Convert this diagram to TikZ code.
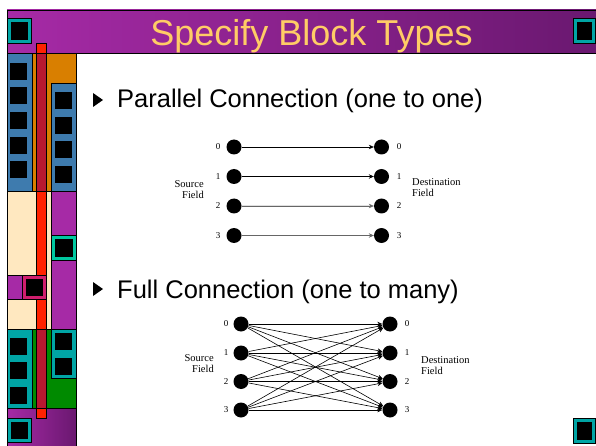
\documentclass[tikz,border=0pt]{standalone}
\usepackage{fontspec}
\setmainfont{Liberation Sans}
\newfontfamily\labelfont{Liberation Serif}
\usetikzlibrary{arrows.meta,calc}
\definecolor{panelblue}{HTML}{3E7BAE}
\definecolor{panelorange}{HTML}{D97F00}
\definecolor{panelcream}{HTML}{FFE8C0}
\definecolor{panelpurple}{HTML}{A62AA6}
\definecolor{paneldark}{HTML}{6A1870}
\definecolor{panelteal}{HTML}{00A5A5}
\definecolor{panelmint}{HTML}{00C8A0}
\definecolor{panelpink}{HTML}{D01E6E}
\definecolor{panelgreen}{HTML}{008A00}
\definecolor{barbright}{HTML}{FF2200}
\definecolor{bardark}{HTML}{B81830}
\definecolor{titlegold}{HTML}{FFCC66}
\tikzset{
  edge/.style={draw=black, line width=0.4pt},
  dot/.style={circle, fill=black, minimum size=15pt, inner sep=0pt},
  num/.style={font=\labelfont\fontsize{9}{10}\selectfont, inner sep=0pt},
  fieldtxt/.style={font=\labelfont\fontsize{10.5}{11}\selectfont, inner sep=0pt},
  link/.style={line width=0.6pt, -{Stealth[length=5pt,width=4.5pt]}},
  bullettext/.style={font=\fontsize{25.5}{28}\selectfont, anchor=base west, inner sep=0pt},
}
% framed square with a black core
\newcommand{\padsq}[5]{%
  \filldraw[edge, fill=#5] (#1,#2) rectangle (#3,#4);
  \filldraw[edge, fill=black] ($(#1,#2)+(4,4)$) rectangle ($(#3,#4)+(-4,-4)$);
}
% plain black square
\newcommand{\hole}[2]{%
  \filldraw[edge, fill=black] (#1,#2) rectangle ++(16,16);
}
\begin{document}
\begin{tikzpicture}[x=1pt,y=-1pt]
\useasboundingbox (0,0) rectangle (596,446);
\fill[white] (0,0) rectangle (596,446);

% title bar
\shade[left color=panelpurple, right color=paneldark] (7,10) rectangle (596,53);
\draw[edge, line width=0.8pt] (7,10) rectangle (597,53);
\padsq{7}{18}{31}{43}{panelteal}
\padsq{573}{18}{595}{43}{panelteal}
\node[font=\fontsize{36}{40}\selectfont, text=titlegold, anchor=base, inner sep=0pt]
  (title) at (311.5,46) {Specify Block Types};

% corner square, lower right
\padsq{573}{418}{595}{443}{panelteal}

% side panel: upper block
\filldraw[edge, fill=panelorange] (32,53) rectangle (76,191);
\filldraw[edge, fill=panelblue] (7,53) rectangle (32,191);
\filldraw[edge, fill=panelblue] (51,83) rectangle (76,191);
\foreach \y in {63,87,112,137,161} {\hole{10}{\y}}
\foreach \y in {92,117,141,166} {\hole{55}{\y}}

% side panel: middle block
\filldraw[edge, fill=panelcream] (7,191) rectangle (51,329);
\filldraw[edge, fill=panelpurple] (51,191) rectangle (76,329);
\padsq{51}{235}{76}{260}{panelmint}
\filldraw[edge, fill=panelpurple] (7,275) rectangle (22,299);

% side panel: lower block
\filldraw[edge, fill=panelgreen] (32,329) rectangle (76,408);
\filldraw[edge, fill=panelteal] (7,329) rectangle (32,408);
\filldraw[edge, fill=panelteal] (51,329) rectangle (76,378);
\foreach \y in {338,362,387} {\hole{10}{\y}}
\foreach \y in {333,358} {\hole{55}{\y}}

% side panel: foot
\shade[left color=panelpurple, right color=paneldark] (7,408) rectangle (76,446);
\draw[edge] (7,446) -- (7,408) -- (76,408) -- (76,446);
\padsq{7}{418}{31}{442}{panelteal}

% vertical bar
\fill[barbright] (36,43) rectangle (46,418);
\fill[bardark] (36,53) rectangle (46,191);
\fill[bardark] (36,329) rectangle (46,408);
\draw[edge] (36,43) rectangle (46,418);
\foreach \y in {53,191,329,408} {\draw[edge] (36,\y) -- (46,\y);}
\padsq{22}{275}{46}{299}{panelpink}

% bullets
\fill (93,93) -- (103,100) -- (93,107) -- cycle;
\node[bullettext] (b1) at (117,108) {Parallel Connection (one to one)};
\fill (93,282) -- (103,289) -- (93,296) -- cycle;
\node[bullettext] (b2) at (117,298) {Full Connection (one to many)};

% parallel connection
\foreach \i/\y in {0/147,1/176.5,2/206,3/235.5} {
  \node[dot] (ps\i) at (234,\y) {};
  \node[dot] (pd\i) at (381.5,\y) {};
  \node[num] at (218,\y) {\i};
  \node[num] at (399,\y) {\i};
}
\draw[link] (ps0) -- (pd0);
\draw[link] (ps1) -- (pd1);
\draw[link, draw=black!60, fill=black] (ps2) -- (pd2);
\draw[link, draw=black!60, fill=black] (ps3) -- (pd3);
\node[fieldtxt, align=right, anchor=east] (psl) at (204,190) {Source\\Field};
\node[fieldtxt, align=left, anchor=west] (pdl) at (412,188) {Destination\\Field};

% full connection
\foreach \i/\y in {0/324,1/353,2/381.5,3/410} {
  \node[dot] (fs\i) at (241,\y) {};
  \node[dot] (fd\i) at (390,\y) {};
  \node[num] at (226,\y) {\i};
  \node[num] at (407,\y) {\i};
}
\foreach \i in {0,...,3} {
  \foreach \j in {0,...,3} {
    \draw[link] (fs\i) -- (fd\j);
  }
}
\node[fieldtxt, align=right, anchor=east] (fsl) at (214,364) {Source\\Field};
\node[fieldtxt, align=left, anchor=west] (fdl) at (421,366) {Destination\\Field};
\end{tikzpicture}
\end{document}
